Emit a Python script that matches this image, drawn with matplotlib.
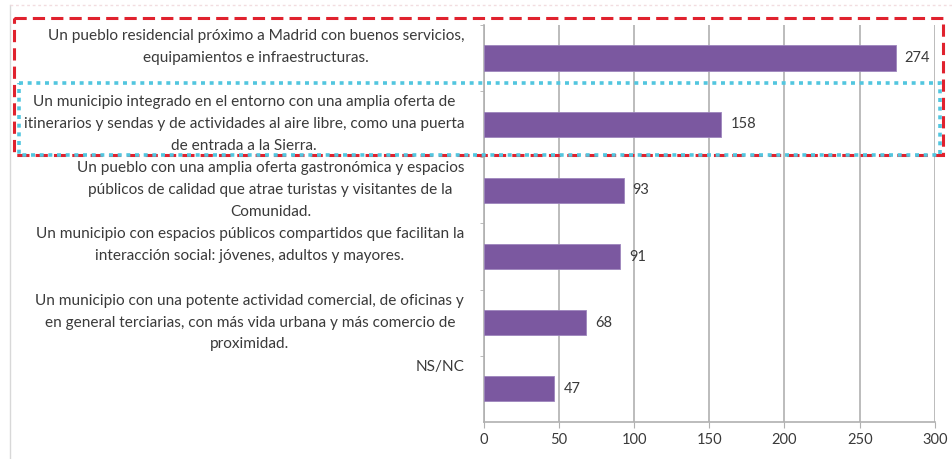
import matplotlib.pyplot as plt
from matplotlib.patches import Rectangle
import matplotlib.transforms as mtransforms

plt.rcParams['font.family'] = ['Lato', 'DejaVu Sans']

categories = [
    "Un pueblo residencial próximo a Madrid con buenos servicios,\nequipamientos e infraestructuras.",
    "Un municipio integrado en el entorno con una amplia oferta de\nitinerarios y sendas y de actividades al aire libre, como una puerta\nde entrada a la Sierra.",
    "Un pueblo con una amplia oferta gastronómica y espacios\npúblicos de calidad que atrae turistas y visitantes de la\nComunidad.",
    "Un municipio con espacios públicos compartidos que facilitan la\ninteracción social: jóvenes, adultos y mayores.",
    "Un municipio con una potente actividad comercial, de oficinas y\nen general terciarias, con más vida urbana y más comercio de\nproximidad.",
    "NS/NC",
]
values = [274, 158, 93, 91, 68, 47]
xticks = [0, 50, 100, 150, 200, 250, 300]

bar_color = '#7b58a0'
grid_color = '#b0b0b0'
text_color = '#3a3a3a'

fig = plt.figure(figsize=(9.52, 4.59), dpi=100)
ax = fig.add_axes([0.508, 0.0806, 0.474, 0.865])

pos = list(range(len(values)))
ax.barh(pos, values, height=0.38, color=bar_color, edgecolor='#9d85bd', linewidth=0.6, zorder=3)
for p, v in zip(pos, values):
    ax.text(v + 6, p, str(v), va='center', ha='left', fontsize=10.5, color=text_color, zorder=4)

ax.set_xlim(0, 300)
ax.set_ylim(len(values) - 0.5, -0.5)
ax.set_xticks(xticks)
ax.set_xticklabels([str(t) for t in xticks], fontsize=10.5, color=text_color)
ax.grid(axis='x', color=grid_color, linewidth=1.2, zorder=0)

# category labels hang just below the top of each band, like Excel
ax.set_yticks([p - 0.44 for p in pos])
ax.set_yticklabels(categories, fontsize=11.1, color=text_color, va='top',
                   multialignment='center', linespacing=1.72)
ax.set_yticks([p - 0.5 for p in pos], minor=True)
ax.tick_params(axis='y', which='major', length=0, pad=14)
ax.tick_params(axis='y', which='minor', length=3, color=grid_color)
ax.tick_params(axis='x', length=4, pad=4, color=grid_color)

for s in ['top', 'right']:
    ax.spines[s].set_visible(False)
for s in ['left', 'bottom']:
    ax.spines[s].set_color(grid_color)
    ax.spines[s].set_linewidth(1.2)

# highlight boxes
trans = mtransforms.blended_transform_factory(fig.transFigure, ax.transData)
red_box = Rectangle((14 / 952, -0.6), 929 / 952, 2.07, transform=trans, fill=False,
                    edgecolor='#e0222e', linewidth=2.2, linestyle=(0, (4, 2)), clip_on=False, zorder=5)
cyan_box = Rectangle((19 / 952, 0.38), 921 / 952, 1.09, transform=trans, fill=False,
                     edgecolor='#52c6df', linewidth=2.6, linestyle=(0, (1.1, 1.3)), clip_on=False, zorder=6)
fig.add_artist(red_box)
fig.add_artist(cyan_box)

# faint chart-area border
fig.add_artist(plt.Line2D([10 / 952, 10 / 952], [0, 0.99], transform=fig.transFigure,
                          color='#d8d8d8', linewidth=1))
fig.add_artist(plt.Line2D([10 / 952, 1], [0.99, 0.99], transform=fig.transFigure,
                          color='#f2dde0', linewidth=1, linestyle=(0, (2, 2))))

fig.savefig('out.png', dpi=100)
